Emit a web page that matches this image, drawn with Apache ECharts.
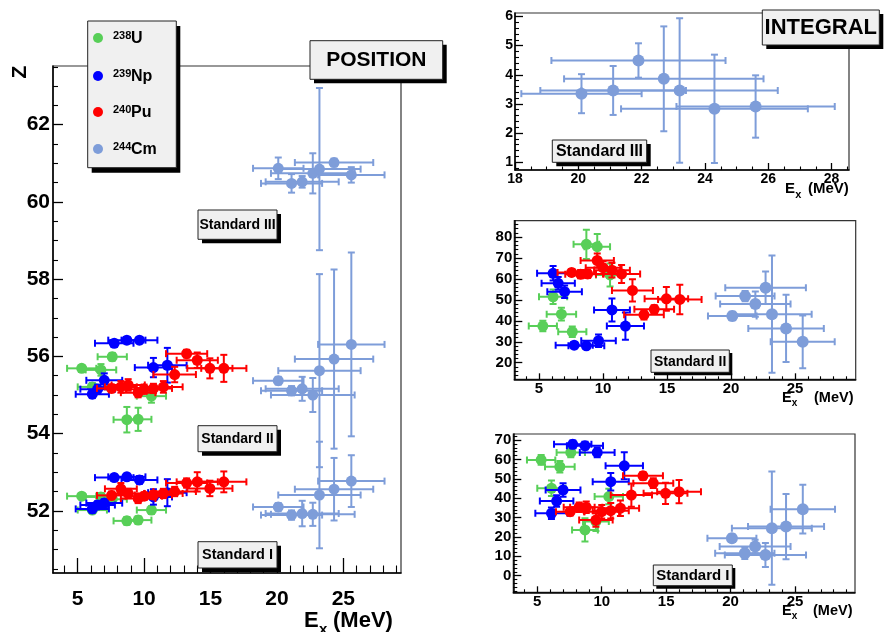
<!DOCTYPE html>
<html>
<head>
<meta charset="utf-8">
<script src="https://cdn.jsdelivr.net/npm/echarts@6/dist/echarts.min.js"></script>
<style>
html, body { margin: 0; padding: 0; background: #fff; }
#chart { width: 886px; height: 632px; }
</style>
</head>
<body>
<div id="chart"></div>
<script>
// ---------------- 238U ----------------
const uEx        = [5.3, 6.1, 6.75, 7.6, 8.7, 9.55, 10.55];
const uExErr     = [1.1, 1.1, 1.15, 1.1, 1.0, 1.0, 1.1];
const uPosI      = [52.38, 52.02, 52.36, 52.3, 51.74, 51.76, 52.02];
const uPosIErr   = [0.08, 0.08, 0.1, 0.1, 0.1, 0.1, 0.1];
const uPosII     = [55.69, 55.21, 55.65, 55.99, 54.36, 54.37, 54.97];
const uPosIIErr  = [0.08, 0.1, 0.15, 0.1, 0.33, 0.3, 0.17];
const uYldI      = [59.7, 45.1, 56.2, 63.6, 23.6, 28.0, 40.8];
const uYldIErr   = [2.5, 4, 3, 2.5, 6, 5, 4];
const uYldII     = [37.5, 51.5, 43.2, 34.8, 76.5, 75.4, 61.9];
const uYldIIErr  = [2.5, 3.5, 3, 2.5, 7, 6, 5.5];

// ---------------- 239Np ----------------
const npEx       = [6.1, 6.5, 7.0, 7.75, 8.7, 9.65, 10.7, 11.75];
const npExErr    = [1.25, 1.3, 1.35, 1.45, 1.4, 1.35, 1.4, 1.45];
const npPosI     = [52.05, 52.15, 52.2, 52.86, 52.88, 52.8, 52.36, 52.47];
const npPosIErr  = [0.1, 0.1, 0.1, 0.08, 0.08, 0.1, 0.2, 0.35];
const npPosII    = [55.02, 55.15, 55.38, 56.34, 56.42, 56.42, 55.71, 55.77];
const npPosIIErr = [0.1, 0.12, 0.18, 0.08, 0.08, 0.08, 0.25, 0.45];
const npYldI     = [32.2, 38.5, 44.2, 67.8, 67.1, 63.6, 48.5, 56.7];
const npYldIErr  = [3, 3, 3.5, 2, 2, 2.5, 4.5, 7];
const npYldII    = [62.7, 57.9, 53.9, 28.4, 28.1, 30.5, 45.2, 37.5];
const npYldIIErr = [3.5, 3, 3, 1.5, 1.5, 3, 5.5, 6.5];

// ---------------- 240Pu ----------------
const puEx       = [7.55, 8.25, 8.8, 9.55, 10.0, 10.7, 11.45, 12.3, 13.2, 14.0, 14.95, 16.0];
const puExErr    = [1.1, 1.2, 1.25, 1.3, 1.35, 1.4, 1.45, 1.6, 1.55, 1.55, 1.7, 1.7];
const puPosI     = [52.4, 52.57, 52.45, 52.32, 52.38, 52.41, 52.45, 52.5, 52.72, 52.75, 52.58, 52.75];
const puPosIErr  = [0.1, 0.15, 0.12, 0.12, 0.1, 0.1, 0.12, 0.12, 0.12, 0.25, 0.2, 0.27];
const puPosII    = [55.17, 55.21, 55.26, 55.06, 55.15, 55.17, 55.21, 55.53, 56.07, 55.9, 55.69, 55.69];
const puPosIIErr = [0.1, 0.15, 0.15, 0.12, 0.12, 0.12, 0.15, 0.2, 0.1, 0.2, 0.26, 0.35];
const puYldI     = [33.0, 35.3, 35.3, 28.7, 33.0, 33.5, 34.8, 41.6, 51.5, 47.7, 42.5, 43.3];
const puYldIErr  = [2, 2.5, 3, 3.5, 3.5, 4, 4, 6, 2, 2.5, 5.5, 6];
const puYldII    = [63.1, 62.3, 62.4, 68.8, 65.4, 64.2, 62.4, 54.5, 42.9, 45.5, 50.5, 50.2];
const puYldIIErr = [1.5, 2, 2, 3.3, 3, 3.5, 4.3, 5.3, 2.2, 2, 5.7, 7];

// ---------------- 244Cm ----------------
const cmEx        = [20.1, 21.1, 21.9, 22.7, 23.2, 24.3, 25.6];
const cmExErr     = [1.9, 2.3, 2.75, 3.15, 3.1, 2.95, 2.5];
const cmPosI      = [52.1, 51.89, 51.93, 51.91, 52.41, 52.56, 52.77];
const cmPosIErr   = [0.1, 0.12, 0.33, 0.3, 1.38, 0.81, 0.67];
const cmPosII     = [55.37, 55.11, 55.16, 55.0, 55.63, 55.93, 56.31];
const cmPosIIErr  = [0.1, 0.12, 0.31, 0.44, 2.5, 2.32, 2.38];
const cmPosIII    = [60.87, 60.48, 60.52, 60.74, 60.85, 61.02, 60.70];
const cmPosIIIErr = [0.28, 0.24, 0.15, 0.52, 2.1, 0.1, 0.2];
const cmYldI      = [19.3, 11.6, 15.0, 10.7, 24.5, 25.3, 34.3];
const cmYldIErr   = [2, 3, 3.5, 6.2, 29.2, 16.8, 12.6];
const cmYldII     = [42.3, 51.8, 48.0, 55.8, 43.2, 36.4, 30.0];
const cmYldIIErr  = [2, 2.5, 6, 7.8, 28, 16, 12.6];
const cmYldIII    = [3.35, 3.46, 4.49, 3.86, 3.46, 2.83, 2.91];
const cmYldIIIErr = [0.67, 0.84, 0.59, 1.8, 2.48, 1.86, 1.07];

// ---------------- tick labels ----------------
const posXTicks    = [5, 10, 15, 20, 25];
const posYTicks    = [52, 54, 56, 58, 60, 62];
const intIIIXTicks = [18, 20, 22, 24, 26, 28];
const intIIIYTicks = [1, 2, 3, 4, 5, 6];
const intIIYTicks  = [20, 30, 40, 50, 60, 70, 80];
const intIYTicks   = [0, 10, 20, 30, 40, 50, 60, 70];

const FONT = '"Liberation Sans", Arial, Helvetica, sans-serif';
const COL = { u: '#58cf58', np: '#0000ff', pu: '#ff0000', cm: '#7e9dd9' };

function steps(a, b, st) {
  const out = [];
  for (let v = a; v <= b + 1e-9; v += st) out.push(+v.toFixed(4));
  return out;
}
function minorsOf(a, b, st, majors) {
  return steps(a, b, st).filter(v => !majors.some(m => Math.abs(m - v) < 1e-6));
}

// panel layout: position panel on the left, three yield panels on the right
const panels = [
  { grid: { left: 53, top: 66, width: 348, height: 507 }, fs: 21,
    x: { min: 3.14, max: 29.34, major: posXTicks, minor: minorsOf(4, 29, 1, posXTicks), len: 15, margin: 16 },
    y: { min: 50.39, max: 63.52, major: posYTicks, minor: minorsOf(50.5, 63.5, 0.5, posYTicks), len: 10, margin: 3 } },
  { grid: { left: 515, top: 13, width: 334, height: 157 }, fs: 14,
    x: { min: 18, max: 28.55, major: intIIIXTicks, minor: minorsOf(18, 28.5, 0.5, intIIIXTicks), len: 7, margin: 2 },
    y: { min: 0.73, max: 6.12, major: intIIIYTicks, minor: minorsOf(0.8, 6.1, 0.2, intIIIYTicks), len: 8, margin: 2 } },
  { grid: { left: 514.3, top: 220.7, width: 341.4, height: 158.6 }, fs: 15,
    x: { min: 3.07, max: 29.74, major: posXTicks, minor: minorsOf(4, 29, 1, posXTicks), len: 6, margin: 2 },
    y: { min: 12.1, max: 87.8, major: intIIYTicks, minor: minorsOf(14, 86, 2, intIIYTicks), len: 8, margin: 2 } },
  { grid: { left: 513.3, top: 434, width: 341.7, height: 158.3 }, fs: 15,
    x: { min: 3.14, max: 29.65, major: posXTicks, minor: minorsOf(4, 29, 1, posXTicks), len: 6, margin: 2 },
    y: { min: -8.6, max: 73.1, major: intIYTicks, minor: minorsOf(-8, 72, 2, intIYTicks), len: 8, margin: 2 } }
];

const grids = [], xAxes = [], yAxes = [];
panels.forEach((p, i) => {
  grids.push(Object.assign({ show: true, borderColor: '#333', borderWidth: 1.2, backgroundColor: 'transparent' }, p.grid));
  ['x', 'y'].forEach(dim => {
    const a = p[dim];
    const main = {
      type: 'value', gridIndex: i, min: a.min, max: a.max,
      position: dim === 'x' ? 'bottom' : 'left',
      axisLine: { show: true, onZero: false, lineStyle: { color: '#000', width: 1.5 } },
      axisTick: { show: true, inside: true, length: a.len, customValues: a.major, lineStyle: { color: '#000', width: 1.3 } },
      axisLabel: { show: true, customValues: a.major, margin: a.margin, fontSize: p.fs, fontWeight: 'bold', fontFamily: FONT, color: '#000' },
      splitLine: { show: false }
    };
    const minor = {
      type: 'value', gridIndex: i, min: a.min, max: a.max,
      position: dim === 'x' ? 'bottom' : 'left', offset: 0,
      axisLine: { show: false, onZero: false },
      axisTick: { show: true, inside: true, length: a.len / 2, customValues: a.minor, lineStyle: { color: '#000', width: 1.1 } },
      axisLabel: { show: false },
      splitLine: { show: false }
    };
    (dim === 'x' ? xAxes : yAxes).push(main, minor);
  });
});

function errorBars(color) {
  return function (params, api) {
    const x = api.value(0), y = api.value(1), xe = api.value(2), ye = api.value(3);
    const L = api.coord([x - xe, y]), R = api.coord([x + xe, y]);
    const T = api.coord([x, y + ye]), B = api.coord([x, y - ye]);
    const c = 3.5;
    const segs = [
      [L, R], [T, B],
      [[L[0], L[1] - c], [L[0], L[1] + c]], [[R[0], R[1] - c], [R[0], R[1] + c]],
      [[T[0] - c, T[1]], [T[0] + c, T[1]]], [[B[0] - c, B[1]], [B[0] + c, B[1]]]
    ];
    return {
      type: 'group',
      children: segs.map(s => ({
        type: 'line',
        shape: { x1: s[0][0], y1: s[0][1], x2: s[1][0], y2: s[1][1] },
        style: { stroke: color, lineWidth: 2 }
      }))
    };
  };
}

const series = [];
let layer = 0;
function graph(panel, color, ex, exErr, val, valErr, size) {
  const data = ex.map((x, i) => [x, val[i], exErr[i], valErr[i]]);
  series.push({
    type: 'custom', xAxisIndex: 2 * panel, yAxisIndex: 2 * panel, clip: true, silent: true,
    z: 3 + layer, data, renderItem: errorBars(color)
  });
  series.push({
    type: 'scatter', xAxisIndex: 2 * panel, yAxisIndex: 2 * panel, clip: true, silent: true,
    z: 4 + layer, symbol: 'circle', symbolSize: size || 11,
    itemStyle: { color, opacity: 1 }, data: data.map(d => [d[0], d[1]])
  });
  layer += 2;
}

// position panel
graph(0, COL.u, uEx, uExErr, uPosI, uPosIErr);
graph(0, COL.u, uEx, uExErr, uPosII, uPosIIErr);
graph(0, COL.np, npEx, npExErr, npPosI, npPosIErr);
graph(0, COL.np, npEx, npExErr, npPosII, npPosIIErr);
graph(0, COL.pu, puEx, puExErr, puPosI, puPosIErr);
graph(0, COL.pu, puEx, puExErr, puPosII, puPosIIErr);
graph(0, COL.cm, cmEx, cmExErr, cmPosI, cmPosIErr);
graph(0, COL.cm, cmEx, cmExErr, cmPosII, cmPosIIErr);
graph(0, COL.cm, cmEx, cmExErr, cmPosIII, cmPosIIIErr);
// integral panels
graph(1, COL.cm, cmEx, cmExErr, cmYldIII, cmYldIIIErr, 12);
graph(2, COL.u, uEx, uExErr, uYldII, uYldIIErr);
graph(2, COL.np, npEx, npExErr, npYldII, npYldIIErr);
graph(2, COL.pu, puEx, puExErr, puYldII, puYldIIErr);
graph(2, COL.cm, cmEx, cmExErr, cmYldII, cmYldIIErr, 12);
graph(3, COL.u, uEx, uExErr, uYldI, uYldIErr);
graph(3, COL.np, npEx, npExErr, npYldI, npYldIErr);
graph(3, COL.pu, puEx, puExErr, puYldI, puYldIErr);
graph(3, COL.cm, cmEx, cmExErr, cmYldI, cmYldIErr, 12);

// ---------------- annotations ----------------
function txt(x, y, text, fs, opts) {
  opts = opts || {};
  const ha = opts.align || 'left', va = opts.valign || 'middle';
  return {
    type: 'text', x, y, rotation: opts.rotation || 0, z: 102,
    style: {
      text, fontSize: fs, fontWeight: 'bold', fontFamily: FONT, fill: '#000',
      align: ha, textAlign: ha, verticalAlign: va, textVerticalAlign: va
    }
  };
}
function pave(x, y, w, h, text, fs, sh) {
  return [
    { type: 'rect', z: 100, shape: { x: x + sh, y: y + sh, width: w, height: h }, style: { fill: '#000' } },
    { type: 'rect', z: 101, shape: { x, y, width: w, height: h }, style: { fill: '#f0f0f0', stroke: '#222', lineWidth: 1 } },
    txt(x + w / 2, y + h / 2 + 0.5, text, fs, { align: 'center' })
  ];
}
function exTitle(x, y, fs, gap) {
  return [
    txt(x, y, 'E', fs),
    txt(x + fs * 0.68, y + fs * 0.38, 'x', Math.round(fs * 0.7)),
    txt(x + gap, y, '(MeV)', fs)
  ];
}

const legendItems = [
  { sup: '238', name: 'U', color: COL.u, y: 38 },
  { sup: '239', name: 'Np', color: COL.np, y: 76 },
  { sup: '240', name: 'Pu', color: COL.pu, y: 112 },
  { sup: '244', name: 'Cm', color: COL.cm, y: 149 }
];

const graphics = [].concat(
  [
    { type: 'rect', z: 100, shape: { x: 91.7, y: 26, width: 88.6, height: 146.7 }, style: { fill: '#000' } },
    { type: 'rect', z: 101, shape: { x: 87.7, y: 21, width: 88.6, height: 146.7 }, style: { fill: '#f0f0f0', stroke: '#222', lineWidth: 1 } }
  ],
  ...legendItems.map(it => [
    { type: 'circle', z: 102, shape: { cx: 98, cy: it.y, r: 5 }, style: { fill: it.color } },
    txt(113, it.y - 8, it.sup, 11, { valign: 'top' }),
    txt(131, it.y + 1, it.name, 16)
  ]),
  pave(310, 40.7, 132.7, 38.6, 'POSITION', 21, 4),
  pave(762.3, 10, 117, 35, 'INTEGRAL', 22, 4),
  pave(198, 210, 79, 29.3, 'Standard III', 14, 4),
  pave(198, 425.7, 79, 26, 'Standard II', 14, 4),
  pave(198, 541.7, 79, 26.3, 'Standard I', 14.5, 4),
  pave(552.3, 140, 94.4, 22.3, 'Standard III', 16, 4),
  pave(651, 350, 78.3, 22.3, 'Standard II', 14, 3),
  pave(653.3, 565, 79, 20.7, 'Standard I', 15, 3),
  [txt(20.5, 72, 'Z', 21, { align: 'center', rotation: Math.PI / 2 })],
  exTitle(304, 621, 22, 29),
  exTitle(785, 189, 15, 23),
  exTitle(782, 398, 14.5, 32),
  exTitle(782, 611, 14.5, 31)
);

const chart = echarts.init(document.getElementById('chart'), null, { renderer: 'canvas' });
chart.setOption({
  animation: false,
  backgroundColor: '#fff',
  grid: grids,
  xAxis: xAxes,
  yAxis: yAxes,
  series,
  graphic: { elements: graphics }
});
</script>
</body>
</html>
